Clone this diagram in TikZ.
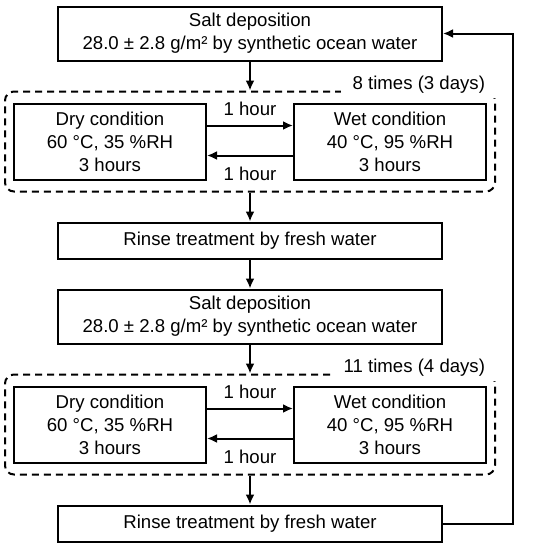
\documentclass[tikz,border=0pt]{standalone}
\usepackage{fontspec}
\setmainfont{Liberation Sans}
\usetikzlibrary{arrows.meta,positioning}
\tikzstyle{StepNode} =[draw,solid,sharp corners,minimum width=384pt,align=center,inner sep=0pt]
\tikzstyle{ConditionNode} =[draw,solid,sharp corners,minimum width=192pt,minimum height=76pt,align=center,inner sep=0pt]
\tikzstyle{CycleLevel} =[draw,dash pattern=on 7pt off 5pt,rounded corners=9pt,column sep=86pt,inner xsep=8pt,inner ysep=11pt]
\tikzstyle{CountLabel} =[fill=white,anchor=east,inner xsep=12pt,inner ysep=5pt]

\begin{document}
\begin{tikzpicture}[->,>={Latex[length=10pt,width=9pt]},line width=2pt,node distance=29pt,font=\fontsize{18.6}{23}\selectfont]
\useasboundingbox (0,0) rectangle (542pt,-550pt);
\node[StepNode,minimum height=54pt](Salt-1) at (250pt,-33.5pt){Salt deposition\\28.0 ± 2.8 g/m² by synthetic ocean water};
\matrix [CycleLevel,below= of Salt-1](Cycle-1){
\node[ConditionNode](Dry-1){Dry condition\\60 °C, 35 \%RH\\3 hours};&
\node[ConditionNode](Wet-1){Wet condition\\40 °C, 95 \%RH\\3 hours};\\
};
\node[CountLabel](Count-1) at ([xshift=2pt,yshift=6pt]Cycle-1.north east){8 times (3 days)};
\node[StepNode,minimum height=36pt,below= of Cycle-1](Rinse-1){Rinse treatment by fresh water};
\node[StepNode,minimum height=54pt,below= of Rinse-1](Salt-2){Salt deposition\\28.0 ± 2.8 g/m² by synthetic ocean water};
\matrix [CycleLevel,below= of Salt-2](Cycle-2){
\node[ConditionNode](Dry-2){Dry condition\\60 °C, 35 \%RH\\3 hours};&
\node[ConditionNode](Wet-2){Wet condition\\40 °C, 95 \%RH\\3 hours};\\
};
\node[CountLabel](Count-2) at ([xshift=2pt,yshift=6pt]Cycle-2.north east){11 times (4 days)};
\node[StepNode,minimum height=36pt,below= of Cycle-2](Rinse-2){Rinse treatment by fresh water};
\draw (Salt-1) -- (Cycle-1);
\draw ([yshift=16pt]Dry-1.east) -- node[above=5pt]{1 hour} ([yshift=16pt]Wet-1.west);
\draw ([yshift=-14pt]Wet-1.west) -- node[below=7pt]{1 hour} ([yshift=-14pt]Dry-1.east);
\draw (Cycle-1) -- (Rinse-1);
\draw (Rinse-1) -- (Salt-2);
\draw (Salt-2) -- (Cycle-2);
\draw ([yshift=16pt]Dry-2.east) -- node[above=5pt]{1 hour} ([yshift=16pt]Wet-2.west);
\draw ([yshift=-14pt]Wet-2.west) -- node[below=7pt]{1 hour} ([yshift=-14pt]Dry-2.east);
\draw (Cycle-2) -- (Rinse-2);
\draw (Rinse-2.east) -- ++(70pt,0) |- (Salt-1.east);
\end{tikzpicture}
\end{document}
